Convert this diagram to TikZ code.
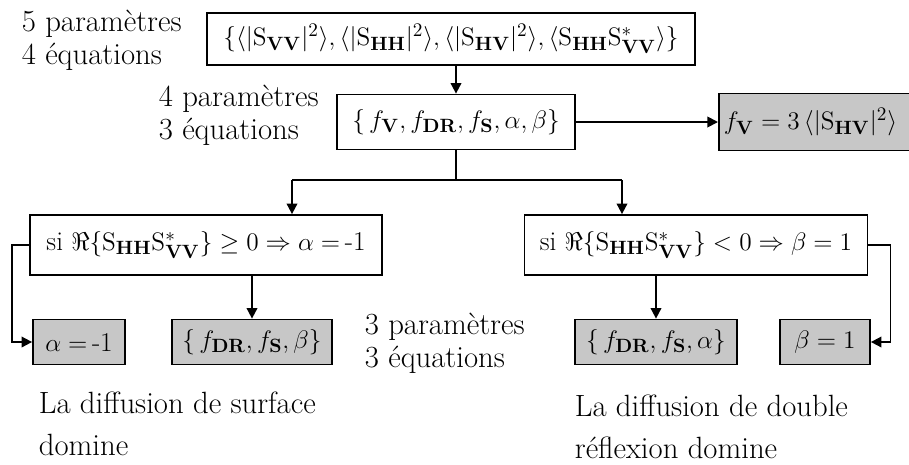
\documentclass[tikz,border=0pt]{standalone}
\usepackage{amsmath}
\usetikzlibrary{positioning, arrows.meta, calc}

\newcommand{\Sx}[1]{\mathrm{S}_{\mathbf{#1}}}

\begin{document}
\begin{tikzpicture}[
    x=0.02cm, y=-0.02cm,
    every node/.style={font=\fontsize{15.5}{18}\selectfont, inner sep=2pt},
    wnode/.style={draw, line width=1pt, fill=white},
    gnode/.style={draw, line width=1pt, fill=black!22},
    txt/.style={align=left, anchor=west, font=\fontsize{17.5}{19}\selectfont},
    note/.style={align=left, anchor=west, font=\fontsize{17.5}{24}\selectfont},
    arr/.style={line width=1pt, -{Triangle[length=6pt,width=6pt]}},
    ln/.style={line width=1pt},
]
\useasboundingbox (0,0) rectangle (909,464);

% rangee du haut
\node[wnode, minimum width=488*0.02cm, minimum height=52*0.02cm] (top) at (451,39)
    {$\{\langle|\Sx{VV}|^2\rangle, \langle|\Sx{HH}|^2\rangle, \langle|\Sx{HV}|^2\rangle, \langle\Sx{HH}\mathrm{S}^*_{\mathbf{VV}}\rangle\}$};
\node[txt] (p5) at (18,40) {5 paramètres\\4 équations};

\node[wnode, minimum width=238*0.02cm, minimum height=55*0.02cm] (sys) at (456,122)
    {$\{\,f_{\mathbf{V}}, f_{\mathbf{DR}}, f_{\mathbf{S}}, \alpha, \beta\}$};
\node[txt] (p4) at (155,115) {4 paramètres\\3 équations};

\node[gnode, anchor=west, minimum width=235*0.02cm, minimum height=57*0.02cm, text width=225*0.02cm, align=left] (fv) at (718,122)
    {$f_{\mathbf{V}} = 3\,\langle|\Sx{HV}|^2\rangle$};

% conditions
\node[wnode, minimum width=352*0.02cm, minimum height=60*0.02cm] (lcond) at (206,245)
    {si $\Re\{\Sx{HH}\mathrm{S}^*_{\mathbf{VV}}\}\geq 0 \Rightarrow \alpha =$\,-1};
\node[wnode, minimum width=343*0.02cm, minimum height=60*0.02cm] (rcond) at (696,245)
    {si $\Re\{\Sx{HH}\mathrm{S}^*_{\mathbf{VV}}\} < 0 \Rightarrow \beta = 1$};

% resultats
\node[gnode, minimum width=92*0.02cm, minimum height=45*0.02cm] (alpha) at (79,342) {$\alpha =$\,-1};
\node[gnode, minimum width=160*0.02cm, minimum height=45*0.02cm] (fbeta) at (252,342)
    {$\{\,f_{\mathbf{DR}}, f_{\mathbf{S}}, \beta\}$};
\node[gnode, minimum width=162*0.02cm, minimum height=45*0.02cm] (falpha) at (656,342)
    {$\{\,f_{\mathbf{DR}}, f_{\mathbf{S}}, \alpha\}$};
\node[gnode, minimum width=90*0.02cm, minimum height=45*0.02cm] (beta) at (825,342) {$\beta = 1$};
\node[txt] (p3) at (361,343) {3 paramètres\\3 équations};

\node[note] (surf) at (35,424) {La diffusion de surface\\domine};
\node[note] (dbl) at (571,427) {La diffusion de double\\réflexion domine};

% fleches
\coordinate (jl) at (292,180);
\coordinate (jr) at (622,180);
\draw[arr] (top.south -| sys.north) -- (sys.north);
\draw[arr] (sys.east) -- (fv.west);
\draw[ln] (sys.south) -- (sys.south |- jl);
\draw[ln] (jl) -- (jr);
\draw[arr] (jl) -- (jl |- lcond.north);
\draw[arr] (jr) -- (jr |- rcond.north);
\draw[arr] (lcond.south -| fbeta.north) -- (fbeta.north);
\draw[arr] (rcond.south -| falpha.north) -- (falpha.north);
\draw[arr] (lcond.west) -- ++(-17,0) |- (alpha.west);
\draw[arr] (rcond.east) -- ++(22,0) |- (beta.east);
\end{tikzpicture}
\end{document}
